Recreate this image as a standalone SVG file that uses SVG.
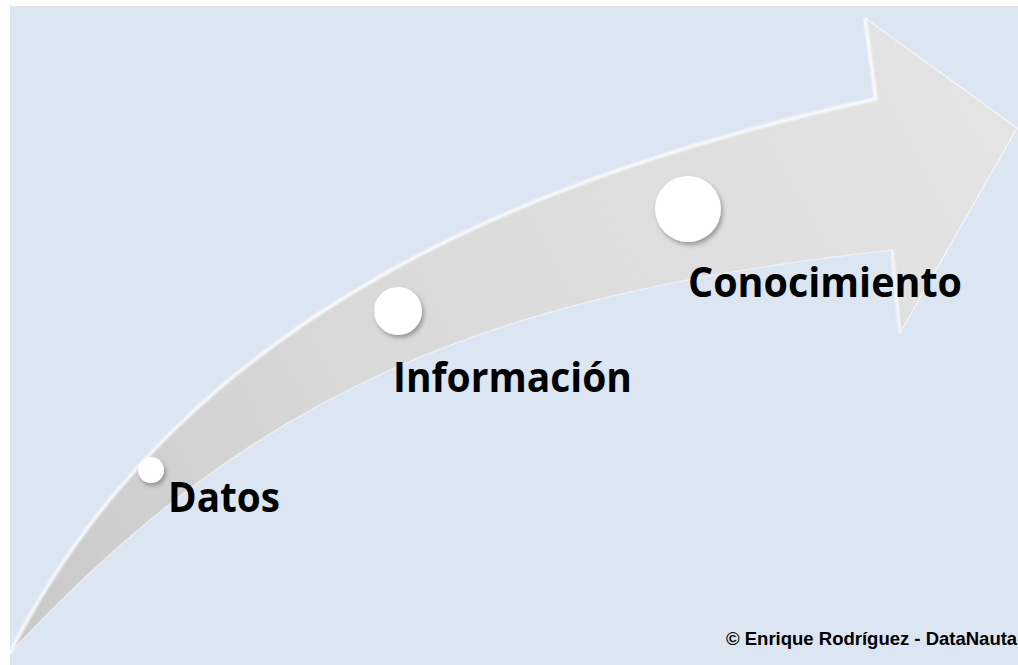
<svg xmlns="http://www.w3.org/2000/svg" width="1018" height="665" viewBox="0 0 1018 665">
<style>
.lbl{font-family:"Open Sans","Noto Sans",sans-serif;font-weight:700;font-size:42px;fill:#000}
.copy{font-family:"Liberation Sans",Arial,sans-serif;font-weight:700;font-size:18.5px;fill:#000}
.dot{fill:#ffffff;filter:url(#sh)}
</style>
<defs>
<linearGradient id="ag" gradientUnits="userSpaceOnUse" x1="10" y1="653" x2="1017" y2="128">
<stop offset="0" stop-color="#c9c9c9"/>
<stop offset="0.4" stop-color="#d9d9d9"/>
<stop offset="1" stop-color="#e4e4e4"/>
</linearGradient>
<filter id="sh" x="-50%" y="-50%" width="200%" height="200%">
<feDropShadow dx="2" dy="3" stdDeviation="2" flood-color="#555" flood-opacity="0.5"/>
</filter>
<filter id="soft" x="-5%" y="-5%" width="110%" height="110%">
<feGaussianBlur stdDeviation="0.8"/>
</filter>
</defs>
<rect x="0" y="0" width="1018" height="665" fill="#ffffff"/>
<rect x="10" y="6" width="1008" height="659" fill="#dce6f2"/>
<g id="arrow">
<path d="M10,653 C181,315 533,174 876,99 L865,18 L1017,128 L900,333 L892,250 C494,294 258,386 10,653 Z" fill="url(#ag)"/>
<path d="M10,653 C181,315 533,174 876,99 L865,18" fill="none" stroke="#ffffff" stroke-width="3" stroke-opacity="0.95" filter="url(#soft)"/>
<path d="M865,18 L1017,128 L900,333" fill="none" stroke="#ffffff" stroke-width="1.5" stroke-opacity="0.6"/>
<path d="M900,333 L892,250" fill="none" stroke="#ffffff" stroke-width="2.5" stroke-opacity="0.9" filter="url(#soft)"/>
<path d="M892,250 C494,294 258,386 10,653" fill="none" stroke="#ffffff" stroke-width="1.5" stroke-opacity="0.45"/>
</g>
<g id="node-datos">
<circle class="dot" cx="151" cy="470" r="13"/>
<text class="lbl" x="168" y="512" textLength="112" lengthAdjust="spacingAndGlyphs">Datos</text>
</g>
<g id="node-informacion">
<circle class="dot" cx="398" cy="311" r="24"/>
<text class="lbl" x="393" y="392" textLength="239" lengthAdjust="spacingAndGlyphs">Información</text>
</g>
<g id="node-conocimiento">
<circle class="dot" cx="688" cy="209" r="33"/>
<text class="lbl" x="688" y="297" textLength="274" lengthAdjust="spacingAndGlyphs">Conocimiento</text>
</g>
<g id="copyright">
<text class="copy" x="726" y="645">© Enrique Rodríguez - DataNauta</text>
</g>
</svg>
